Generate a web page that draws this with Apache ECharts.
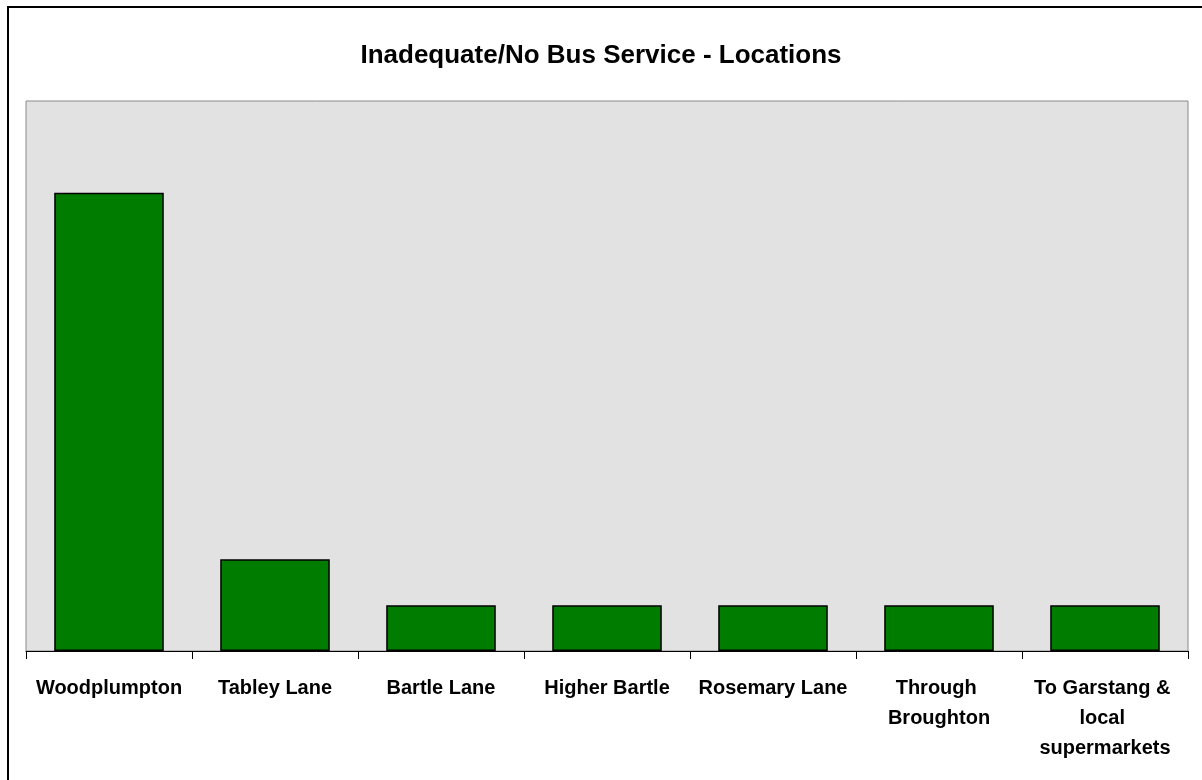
<!DOCTYPE html>
<html><head><meta charset="utf-8">
<script src="https://cdn.jsdelivr.net/npm/echarts@6/dist/echarts.min.js"></script>
<style>html,body{margin:0;padding:0;background:#fff;}#c{width:1202px;height:780px;}</style>
</head><body><div id="c"></div>
<script>
const categories = ["Woodplumpton","Tabley Lane","Bartle Lane","Higher Bartle","Rosemary Lane","Through Broughton","To Garstang & local supermarkets"];
const values = [10, 2, 1, 1, 1, 1, 1];
const chart = echarts.init(document.getElementById('c'));
chart.setOption({
  animation: false,
  backgroundColor: '#ffffff',
  title: {
    text: 'Inadequate/No Bus Service - Locations',
    left: 'center', top: 38,
    textStyle: {fontFamily: 'Liberation Sans, Arial', fontWeight: 'bold', fontSize: 26, color: '#000'}
  },
  graphic: [{
    type: 'rect', shape: {x: 8, y: 7, width: 1220, height: 800},
    style: {fill: 'none', stroke: '#000', lineWidth: 2}, silent: true
  }],
  grid: {left: 26, right: 14, top: 101, bottom: 129, show: true,
    backgroundColor: '#e2e2e2', borderColor: '#8a8a8a', borderWidth: 1},
  xAxis: {
    type: 'category', data: categories,
    axisLine: {lineStyle: {color: '#000', width: 1}},
    axisTick: {show: true, length: 8, lineStyle: {color: '#000'}},
    axisLabel: {fontFamily: 'Liberation Sans, Arial', fontWeight: 'bold', fontSize: 20, color: '#000',
      margin: 22, width: 155, overflow: 'break', lineHeight: 30, interval: 0}
  },
  yAxis: {
    type: 'value', min: 0, max: 12, interval: 2,
    axisLine: {show: false}, axisTick: {show: false}, axisLabel: {show: false}, splitLine: {show: false}
  },
  series: [{
    type: 'bar', data: values, barWidth: '66%',
    itemStyle: {color: '#007c00', borderColor: '#000', borderWidth: 1.5}
  }]
});
</script></body></html>
